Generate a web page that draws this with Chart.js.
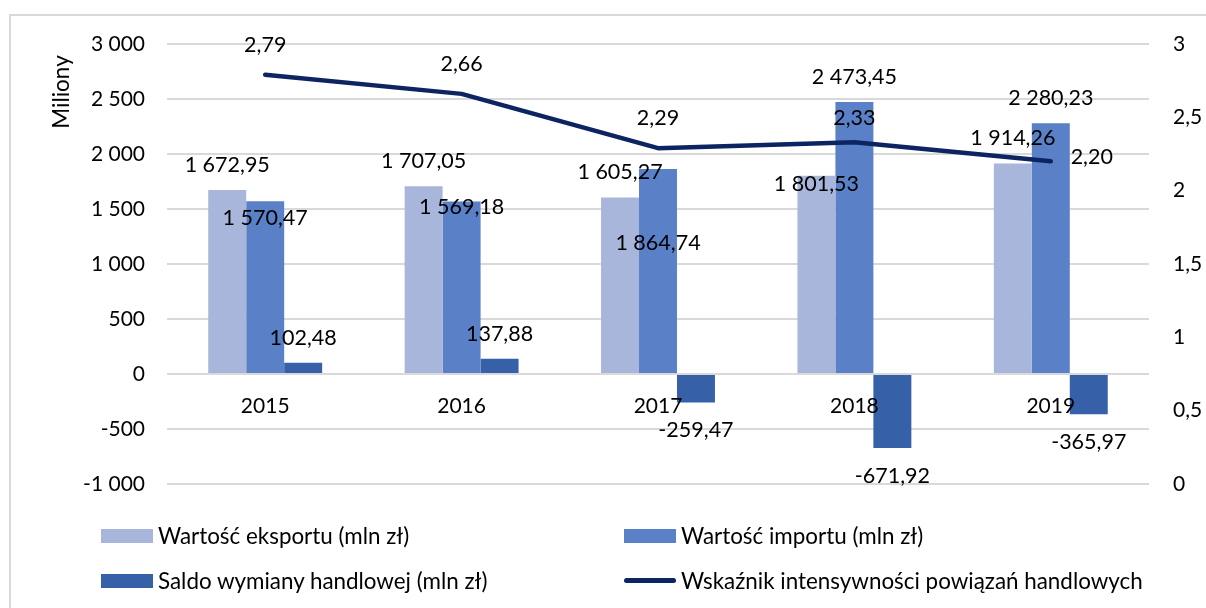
<!DOCTYPE html>
<html lang="pl">
<head>
<meta charset="utf-8">
<script src="https://cdn.jsdelivr.net/npm/chart.js@4/dist/chart.umd.min.js"></script>
<style>
  html, body { margin: 0; padding: 0; background: #fff; }
  #wrap { position: relative; width: 1206px; height: 608px; overflow: hidden; font-family: Lato, sans-serif; }
  #frame { position: absolute; left: 9px; top: 14px; width: 1400px; height: 800px; border-left: 2px solid #d9d9d9; border-top: 2px solid #d9d9d9; }
  #chart { position: absolute; left: 0; top: 0; }
  .leg { position: absolute; font-size: 22.4px; line-height: 22px; color: #000; white-space: nowrap; }
  .sw { position: absolute; }
</style>
</head>
<body>
<div id="wrap">
  <div id="frame"></div>
  <canvas id="chart" width="1206" height="608"></canvas>
  <div id="legend"></div>
</div>
<script>
// dane
var years = ['2015', '2016', '2017', '2018', '2019'];
var eksport = [1672.95, 1707.05, 1605.27, 1801.53, 1914.26];
var importVal = [1570.47, 1569.18, 1864.74, 2473.45, 2280.23];
var saldo = [102.48, 137.88, -259.47, -671.92, -365.97];
var wskaznik = [2.79, 2.66, 2.29, 2.33, 2.20];
var leftAxis = [-1000, 3000, 500];   // min, max, krok
var rightAxis = [0, 3, 0.5];

// przesuniecia etykiet (jak w oryginale z Excela)
var nudgeEksport = [null, null, null, [0, 8], null];
var nudgeImport = [[0, 17], [0, 6], [0, 74], null, null];
var nudgeWskaznik = [null, null, null, [0, -24], [41, -4]];

var colors = {
  eksport: '#a8b6dc',
  importVal: '#5a80c7',
  saldo: '#3660a8',
  line: '#0c2461'
};

function plNum(v, dec) {
  var s = Math.abs(v).toFixed(dec).split('.');
  var i = s[0].replace(/\B(?=(\d{3})+(?!\d))/g, ' ');
  return (v < 0 ? '-' : '') + i + (s[1] ? ',' + s[1] : '');
}

var labelPlugin = {
  id: 'valueLabels',
  afterDatasetsDraw: function(chart) {
    var ctx = chart.ctx;
    ctx.save();
    ctx.fillStyle = '#000';
    ctx.textAlign = 'center';
    ctx.textBaseline = 'middle';

    // podpisy lat przy linii zera
    ctx.font = '21px Lato';
    var zero = chart.scales.y.getPixelForValue(0);
    years.forEach(function(y, i) {
      ctx.fillText(y, chart.scales.x.getPixelForValue(i), zero + 32);
    });

    ctx.font = '21.5px Lato';
    chart.data.datasets.forEach(function(ds, di) {
      var meta = chart.getDatasetMeta(di);
      meta.data.forEach(function(el, i) {
        var v = ds.data[i];
        var dx = 0, dy;
        if (ds.type === 'line') dy = -30;
        else if (v >= 0) dy = -25;
        else dy = 28;
        var n = ds.nudge && ds.nudge[i];
        if (n) { dx = n[0]; dy = n[1]; }
        ctx.fillText(plNum(v, 2), el.x + dx, el.y + dy);
      });
    });

    // tytul osi
    ctx.font = '22.5px Lato';
    ctx.translate(62, 92);
    ctx.rotate(-Math.PI / 2);
    ctx.fillText('Miliony', 0, 0);
    ctx.restore();
  }
};

var tickFont = { family: 'Lato', size: 21 };

var chart = new Chart(document.getElementById('chart'), {
  type: 'bar',
  data: {
    labels: years,
    datasets: [
      { type: 'line', label: 'Wskaźnik intensywności powiązań handlowych', data: wskaznik, yAxisID: 'y1',
        borderColor: colors.line, backgroundColor: colors.line, borderWidth: 4.5, pointRadius: 0,
        borderCapStyle: 'round', borderJoinStyle: 'round', tension: 0, order: 0, nudge: nudgeWskaznik },
      { label: 'Wartość eksportu (mln zł)', data: eksport, backgroundColor: colors.eksport, order: 1, nudge: nudgeEksport },
      { label: 'Wartość importu (mln zł)', data: importVal, backgroundColor: colors.importVal, order: 1, nudge: nudgeImport },
      { label: 'Saldo wymiany handlowej (mln zł)', data: saldo, backgroundColor: colors.saldo, order: 1 }
    ]
  },
  options: {
    responsive: false,
    animation: false,
    devicePixelRatio: 1,
    layout: { padding: { left: 0, right: 0, top: 44, bottom: 124 } },
    datasets: { bar: { barPercentage: 1, categoryPercentage: 0.58 } },
    plugins: { legend: { display: false }, tooltip: { enabled: false } },
    scales: {
      x: {
        grid: { display: false }, border: { display: false },
        ticks: { display: false },
        afterFit: function(s) { s.height = 0; }
      },
      y: {
        position: 'left',
        min: leftAxis[0], max: leftAxis[1],
        grid: { color: '#d9d9d9', lineWidth: 2, drawTicks: false },
        border: { display: false },
        ticks: { stepSize: leftAxis[2], padding: 22, color: '#000', font: tickFont,
          callback: function(v) { return plNum(v, 0); } },
        afterFit: function(s) { s.width = 167; }
      },
      y1: {
        position: 'right',
        min: rightAxis[0], max: rightAxis[1],
        grid: { display: false, drawTicks: false },
        border: { display: false },
        ticks: { stepSize: rightAxis[2], padding: 24, color: '#000', font: tickFont,
          callback: function(v) { return String(v).replace('.', ','); } },
        afterFit: function(s) { s.width = 57; }
      }
    }
  },
  plugins: [labelPlugin]
});

// legenda w HTML
var legendSlots = [[101, 529], [624, 529], [101, 574], [624, 574]];
var legendOrder = [1, 2, 3, 0];
var html = '';
legendOrder.forEach(function(di, k) {
  var ds = chart.data.datasets[di];
  var x = legendSlots[k][0], y = legendSlots[k][1];
  if (ds.type === 'line') {
    html += '<div class="sw" style="left:' + x + 'px;top:' + (y + 4) + 'px;width:52px;height:5px;border-radius:3px;background:' + ds.borderColor + '"></div>';
  } else {
    html += '<div class="sw" style="left:' + x + 'px;top:' + y + 'px;width:52px;height:14px;background:' + ds.backgroundColor + '"></div>';
  }
  html += '<div class="leg" style="left:' + (x + 57) + 'px;top:' + (y - 4) + 'px">' + ds.label + '</div>';
});
document.getElementById('legend').innerHTML = html;
</script>
</body>
</html>
